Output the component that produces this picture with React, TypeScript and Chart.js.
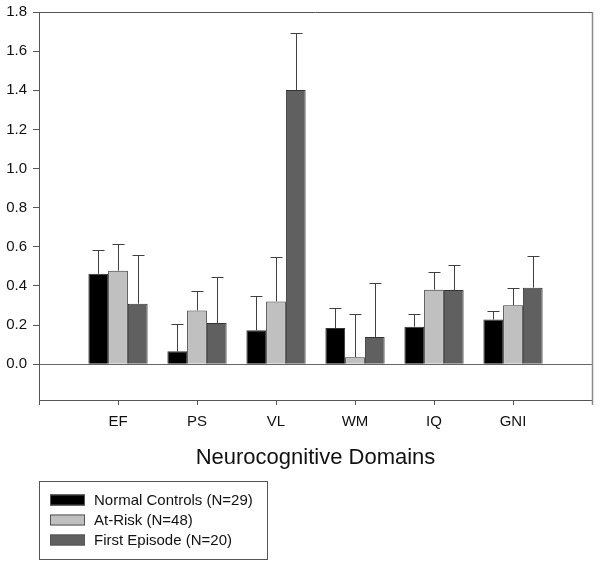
import React, { useEffect, useRef } from "react";
import { Chart, registerables } from "chart.js";

Chart.register(...registerables);

const categories = ["", "EF", "PS", "VL", "WM", "IQ", "GNI", ""];
const seriesLabels = ["Normal Controls (N=29)", "At-Risk (N=48)", "First Episode (N=20)"];
const seriesColors = ["#000000", "#c0c0c0", "#606060"];

const normalControls = [null, 0.462, 0.066, 0.173, 0.185, 0.192, 0.228, null];
const normalControlsTop = [null, 0.585, 0.204, 0.35, 0.289, 0.255, 0.272, null];
const atRisk = [null, 0.478, 0.275, 0.321, 0.036, 0.381, 0.301, null];
const atRiskTop = [null, 0.613, 0.376, 0.547, 0.258, 0.469, 0.391, null];
const firstEpisode = [null, 0.309, 0.211, 1.401, 0.139, 0.379, 0.391, null];
const firstEpisodeTop = [null, 0.559, 0.447, 1.695, 0.417, 0.505, 0.551, null];

const yTicks = [0, 0.2, 0.4, 0.6, 0.8, 1.0, 1.2, 1.4, 1.6, 1.8];
const xTitle = "Neurocognitive Domains";

const FONT = "'Liberation Sans', Arial, Helvetica, sans-serif";
const AXIS = "#555555";

const errorTops = [normalControlsTop, atRiskTop, firstEpisodeTop];

const errorBarPlugin = {
  id: "errorBars",
  afterDatasetsDraw(chart: any) {
    const ctx = chart.ctx;
    const y = chart.scales.y;
    ctx.save();
    ctx.strokeStyle = "#404040";
    ctx.lineWidth = 1;
    chart.data.datasets.forEach((ds: any, i: number) => {
      const meta = chart.getDatasetMeta(i);
      meta.data.forEach((el: any, j: number) => {
        const v = ds.data[j];
        const top = errorTops[i][j];
        if (v == null || top == null) return;
        const x = Math.round(el.x) + 0.5;
        const y0 = el.y;
        const y1 = Math.round(y.getPixelForValue(top)) + 0.5;
        ctx.beginPath();
        ctx.moveTo(x, y0);
        ctx.lineTo(x, y1);
        ctx.moveTo(x - 6, y1);
        ctx.lineTo(x + 6, y1);
        ctx.stroke();
      });
    });
    ctx.restore();
  },
};

const framePlugin = {
  id: "frame",
  afterDraw(chart: any) {
    const { ctx, chartArea } = chart;
    const xs = chart.scales.x;
    ctx.save();
    ctx.lineWidth = 1;
    ctx.strokeStyle = AXIS;
    ctx.beginPath();
    ctx.moveTo(chartArea.left, Math.round(chartArea.top) + 0.5);
    ctx.lineTo(chartArea.right, Math.round(chartArea.top) + 0.5);
    ctx.stroke();
    const yb = Math.round(chartArea.bottom);
    ctx.beginPath();
    for (let i = 0; i < xs.ticks.length; i++) {
      const px = Math.round(xs.getPixelForTick(i)) + 0.5;
      ctx.moveTo(px, yb);
      ctx.lineTo(px, yb + 5);
    }
    ctx.stroke();
    ctx.strokeStyle = "#8a8a8a";
    ctx.lineWidth = 1.5;
    ctx.beginPath();
    ctx.moveTo(Math.round(chartArea.right) + 0.5, chartArea.top);
    ctx.lineTo(Math.round(chartArea.right) + 0.5, chartArea.bottom + 5);
    ctx.stroke();
    ctx.restore();
  },
};

const legendPlugin = {
  id: "boxLegend",
  afterDraw(chart: any) {
    const ctx = chart.ctx;
    const left = chart.chartArea.left;
    const boxTop = 481.5;
    ctx.save();
    ctx.strokeStyle = AXIS;
    ctx.lineWidth = 1;
    ctx.strokeRect(Math.round(left) + 0.5, boxTop, 228, 78);
    ctx.font = `15px ${FONT}`;
    ctx.textBaseline = "middle";
    ctx.textAlign = "left";
    chart.data.datasets.forEach((ds: any, i: number) => {
      const cy = 500 + i * 20;
      ctx.fillStyle = ds.backgroundColor;
      ctx.fillRect(left + 11, cy - 5.5, 35, 11);
      ctx.strokeStyle = "#555";
      ctx.strokeRect(left + 11.5, cy - 5, 34, 10);
      ctx.fillStyle = "#111";
      ctx.fillText(ds.label, left + 55, cy + 1);
    });
    ctx.restore();
  },
};

export default function App() {
  const ref = useRef<HTMLCanvasElement | null>(null);
  useEffect(() => {
    document.body.style.margin = "0";
    const values = [normalControls, atRisk, firstEpisode];
    const chart = new Chart(ref.current as HTMLCanvasElement, {
      type: "bar",
      data: {
        labels: categories,
        datasets: values.map((d, i) => ({
          label: seriesLabels[i],
          data: d,
          backgroundColor: seriesColors[i],
          borderColor: "#333333",
          borderWidth: 1,
          categoryPercentage: 0.75,
          barPercentage: 1.0,
        })),
      },
      options: {
        animation: false,
        responsive: false,
        devicePixelRatio: 1,
        layout: { padding: { top: 12, right: 5, bottom: 94, left: 0 } },
        plugins: { legend: { display: false }, tooltip: { enabled: false } },
        scales: {
          x: {
            type: "category",
            offset: false,
            grid: { offset: false, drawOnChartArea: false, tickLength: 5, color: AXIS, tickColor: AXIS },
            border: { display: true, color: AXIS, width: 1 },
            ticks: { font: { size: 15, family: FONT }, color: "#111", padding: 8, maxRotation: 0, autoSkip: false },
            title: {
              display: true,
              text: xTitle,
              font: { size: 22, family: FONT },
              color: "#111",
              padding: { top: 0, bottom: 0 },
            },
            afterFit(scale: any) {
              scale.height = 71;
            },
          },
          y: {
            min: -0.183,
            max: 1.8,
            afterBuildTicks(scale: any) {
              scale.ticks = yTicks.map((v) => ({ value: v }));
            },
            afterFit(scale: any) {
              scale.width = 39;
            },
            grid: {
              tickLength: 6,
              tickColor: AXIS,
              color: (c: any) => (c.tick && Math.abs(c.tick.value) < 1e-9 ? "#666" : "rgba(0,0,0,0)"),
            },
            border: { display: true, color: AXIS, width: 1 },
            ticks: {
              font: { size: 15, family: FONT, lineHeight: 0.8 },
              color: "#111",
              padding: 6,
              callback: (v: any) => Number(v).toFixed(1),
            },
          },
        },
      },
      plugins: [errorBarPlugin, framePlugin, legendPlugin],
    });
    return () => chart.destroy();
  }, []);
  return (
    <div style={{ width: 600, height: 565 }}>
      <canvas ref={ref} width={600} height={565} />
    </div>
  );
}
